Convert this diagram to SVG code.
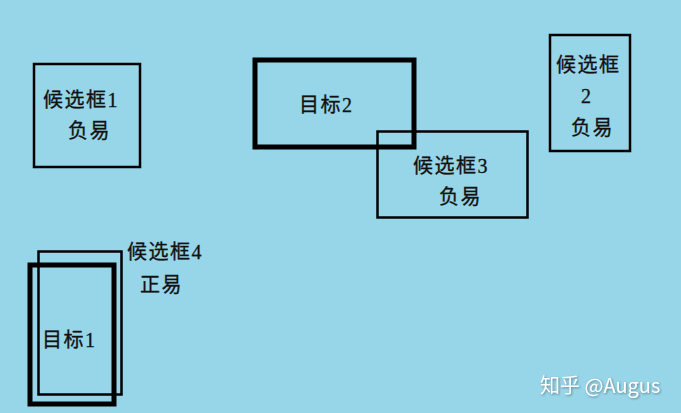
<svg xmlns="http://www.w3.org/2000/svg" width="681" height="413" viewBox="0 0 681 413">
<style>
.bg{fill:#97D5E8}
.box{fill:none;stroke:#000;stroke-width:2.5}
.tgt{fill:none;stroke:#000;stroke-width:5}
.t{font-family:"Liberation Serif","Noto Sans CJK SC",serif;font-size:20px;fill:#111;stroke:#111;stroke-width:0.3;letter-spacing:1.5px}
.wm{font-family:"Noto Sans CJK SC","Noto Sans",sans-serif;font-size:20px;fill:#fff}
</style>
<rect class="bg" x="0" y="0" width="681" height="413"/>
<g id="cand1">
<rect class="box" x="34" y="64" width="106" height="103"/>
<text class="t" x="43" y="107">候选框1</text>
<text class="t" x="68" y="138">负易</text>
</g>
<g id="target2">
<rect class="tgt" x="255" y="60" width="159" height="87"/>
<text class="t" x="299" y="112">目标2</text>
</g>
<g id="cand3">
<rect class="box" x="377.5" y="131.5" width="150" height="86"/>
<text class="t" x="413" y="173">候选框3</text>
<text class="t" x="439" y="204">负易</text>
</g>
<g id="cand2">
<rect class="box" x="550" y="35" width="80" height="116"/>
<text class="t" x="556" y="72">候选框</text>
<text class="t" x="581" y="103">2</text>
<text class="t" x="571" y="135">负易</text>
</g>
<g id="cand4">
<rect class="box" x="38.5" y="251.5" width="83" height="143"/>
<text class="t" x="127" y="259">候选框4</text>
<text class="t" x="140" y="292">正易</text>
</g>
<g id="target1">
<rect class="tgt" x="30" y="265" width="84" height="139"/>
<text class="t" x="42" y="347">目标1</text>
</g>
<g id="connectors"></g>
<text class="wm" x="540" y="393" style="filter:drop-shadow(1px 1px 1px rgba(0,0,0,0.35))">知乎 @Augus</text>
</svg>
